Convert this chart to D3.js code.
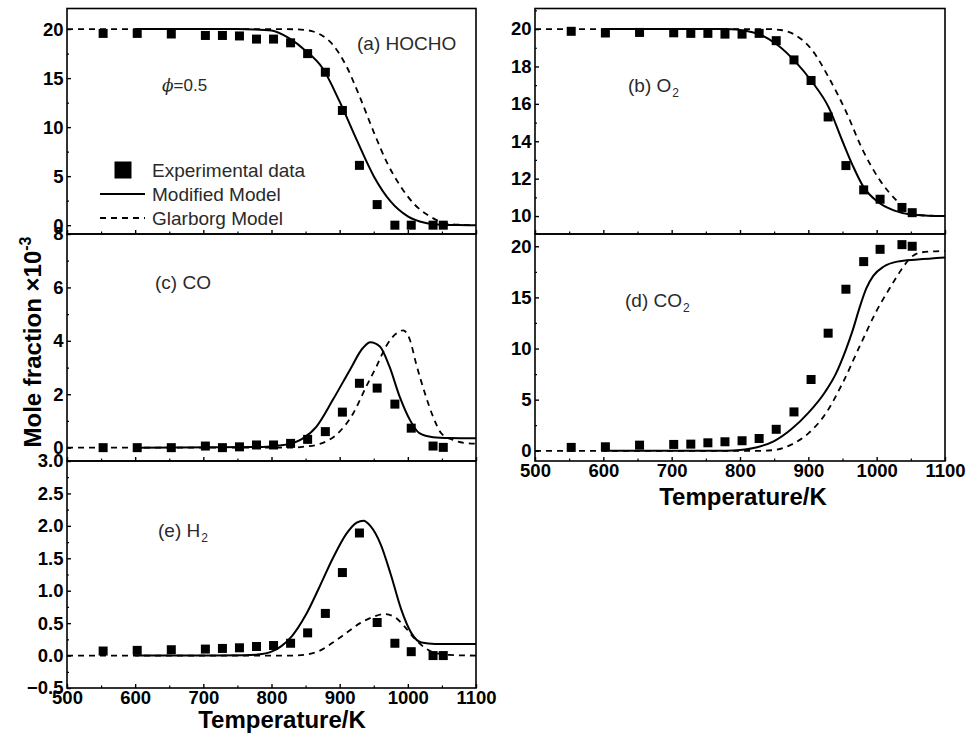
<!DOCTYPE html>
<html>
<head>
<meta charset="utf-8">
<script src="https://cdn.jsdelivr.net/npm/d3@7"></script>
<style>
  html, body { margin: 0; padding: 0; background: #fff; }
  svg { display: block; font-family: "Liberation Sans", Arial, sans-serif; }
</style>
</head>
<body>
<svg id="chart" width="969" height="733"></svg>
<script>
// ---------------- DATA ----------------
const expT = [553, 603, 653, 703, 728, 753, 778, 803, 828, 853, 879, 904, 929, 955, 981, 1005, 1037, 1052];

const expHOCHO = [19.56, 19.56, 19.5, 19.35, 19.35, 19.3, 18.98, 18.98, 18.6, 17.5, 15.6, 11.7, 6.1, 2.1, 0, 0, 0, 0];
const expO2    = [19.88, 19.79, 19.82, 19.8, 19.77, 19.77, 19.73, 19.73, 19.77, 19.38, 18.35, 17.25, 15.3, 12.7, 11.4, 10.9, 10.46, 10.18];
const expCO    = [0, 0, 0, 0.06, 0, 0.03, 0.1, 0.1, 0.16, 0.31, 0.6, 1.33, 2.41, 2.23, 1.63, 0.73, 0.06, 0.01];
const expCO2   = [0.33, 0.39, 0.55, 0.62, 0.65, 0.78, 0.88, 0.98, 1.2, 2.1, 3.8, 6.97, 11.5, 15.8, 18.5, 19.7, 20.16, 20.0];
const expH2    = [0.07, 0.08, 0.09, 0.1, 0.11, 0.12, 0.14, 0.155, 0.19, 0.35, 0.65, 1.28, 1.89, 0.51, 0.19, 0.06, 0.0, 0.0];

// Modified model (solid)
const modHOCHO_T = [600, 750, 775, 800, 825, 850, 875, 900, 925, 950, 975, 1000, 1025, 1050, 1075, 1100];
const modHOCHO   = [20, 20, 19.97, 19.85, 19.1, 17.8, 16.0, 12.6, 8.7, 5.0, 2.4, 0.9, 0.25, 0.05, 0.01, 0];
const modO2_T = [600, 780, 810, 830, 855, 880, 905, 930, 950, 965, 980, 1000, 1025, 1050, 1075, 1100];
const modO2   = [20, 20, 19.9, 19.7, 19.15, 18.3, 17.2, 15.8, 14.0, 12.7, 11.6, 10.8, 10.3, 10.08, 10.02, 10.0];
const modCO_T = [600, 780, 810, 830, 845, 866, 890, 915, 934, 945, 959, 973, 988, 1003, 1017, 1037, 1061, 1100];
const modCO   = [0, 0.02, 0.08, 0.16, 0.33, 0.79, 1.79, 2.91, 3.73, 3.95, 3.79, 3.04, 1.91, 1.04, 0.54, 0.39, 0.36, 0.35];
const modCO2_T = [600, 780, 800, 825, 850, 875, 900, 925, 940, 955, 965, 975, 985, 995, 1010, 1030, 1060, 1100];
const modCO2   = [0, 0, 0.07, 0.35, 0.95, 2.1, 3.7, 5.8, 7.5, 9.9, 11.8, 14.0, 15.9, 17.1, 18.0, 18.5, 18.7, 18.9];
const modH2_T = [600, 760, 780, 800, 815, 830, 850, 870, 890, 910, 925, 935, 945, 960, 975, 990, 1005, 1020, 1040, 1100];
const modH2   = [0, 0.005, 0.015, 0.06, 0.15, 0.3, 0.62, 1.05, 1.5, 1.88, 2.05, 2.08, 2.0, 1.72, 1.25, 0.72, 0.35, 0.2, 0.18, 0.18];

// Glarborg model (dashed)
const glaHOCHO_T = [500, 820, 850, 870, 890, 910, 930, 950, 970, 990, 1010, 1030, 1050, 1070, 1100];
const glaHOCHO   = [20, 20, 19.9, 19.5, 18.4, 16.2, 13.0, 9.5, 6.3, 3.9, 2.1, 1.0, 0.3, 0.06, 0];
const glaO2_T = [500, 840, 860, 880, 905, 930, 955, 980, 1005, 1030, 1050, 1070, 1100];
const glaO2   = [20, 20, 19.95, 19.7, 18.9, 17.4, 15.6, 13.5, 11.9, 10.8, 10.2, 10.03, 10];
const glaCO_T = [500, 830, 849, 871, 895, 920, 939, 954, 968, 981, 993, 1003, 1012, 1025, 1037, 1049, 1066, 1086, 1100];
const glaCO   = [0, 0, 0.04, 0.14, 0.48, 1.29, 2.29, 3.04, 3.79, 4.23, 4.39, 4.04, 3.16, 2.04, 1.16, 0.54, 0.29, 0.17, 0.15];
const glaCO2_T = [500, 830, 850, 875, 900, 925, 950, 975, 1000, 1020, 1035, 1050, 1065, 1100];
const glaCO2   = [0, 0, 0.07, 0.6, 1.7, 3.6, 6.6, 10.2, 13.7, 16.0, 17.6, 18.9, 19.4, 19.55];
const glaH2_T = [500, 830, 850, 870, 890, 910, 930, 950, 965, 980, 995, 1010, 1025, 1040, 1060, 1100];
const glaH2   = [0, 0, 0.015, 0.07, 0.2, 0.35, 0.5, 0.6, 0.64, 0.6, 0.45, 0.26, 0.12, 0.04, 0.01, 0];

// Axis ticks
const xTicks = [500, 600, 700, 800, 900, 1000, 1100];
const xMinor = [550, 650, 750, 850, 950, 1050];
const yTicksA = [0, 5, 10, 15, 20];
const yTicksB = [10, 12, 14, 16, 18, 20];
const yTicksC = [0, 2, 4, 6, 8];
const yTicksD = [0, 5, 10, 15, 20];
const yTicksE = [-0.5, 0.0, 0.5, 1.0, 1.5, 2.0, 2.5, 3.0];

// Labels
const legendLabels = ["Experimental data", "Modified Model", "Glarborg Model"];
const xTitle = "Temperature/K";
const yTitle = "Mole fraction ×10";

// ---------------- LAYOUT ----------------
const svg = d3.select("#chart");
const colL = [67, 476], colR = [535, 945];
const xL = d3.scaleLinear().domain([500, 1100]).range(colL);
const xR = d3.scaleLinear().domain([500, 1100]).range(colR);

const panels = [
  { id: "a", x: xL, y: d3.scaleLinear().domain([-0.9, 22.1]).range([234, 8.5]),
    ticks: yTicksA, step: 2.5, fmt: d3.format("d"), exp: expHOCHO,
    mT: modHOCHO_T, m: modHOCHO, gT: glaHOCHO_T, g: glaHOCHO, xlabels: false,
    label: { t: "(a) HOCHO", sub: null, x: 357, y: 50 } },
  { id: "b", x: xR, y: d3.scaleLinear().domain([9.04, 21.1]).range([234, 8.5]),
    ticks: yTicksB, step: 1, fmt: d3.format("d"), exp: expO2,
    mT: modO2_T, m: modO2, gT: glaO2_T, g: glaO2, xlabels: false,
    label: { t: "(b) O", sub: "2", x: 628, y: 92 } },
  { id: "c", x: xL, y: d3.scaleLinear().domain([-0.5, 8]).range([461, 234]),
    ticks: yTicksC, step: 1, fmt: d3.format("d"), exp: expCO,
    mT: modCO_T, m: modCO, gT: glaCO_T, g: glaCO, xlabels: false,
    label: { t: "(c) CO", sub: null, x: 155, y: 289 } },
  { id: "d", x: xR, y: d3.scaleLinear().domain([-1, 21.2]).range([461, 234]),
    ticks: yTicksD, step: 2.5, fmt: d3.format("d"), exp: expCO2,
    mT: modCO2_T, m: modCO2, gT: glaCO2_T, g: glaCO2, xlabels: true,
    label: { t: "(d) CO", sub: "2", x: 625, y: 307 } },
  { id: "e", x: xL, y: d3.scaleLinear().domain([-0.5, 3.0]).range([688, 461]),
    ticks: yTicksE, step: 0.25, fmt: d3.format(".1f"), exp: expH2,
    mT: modH2_T, m: modH2, gT: glaH2_T, g: glaH2, xlabels: true,
    label: { t: "(e) H", sub: "2", x: 158, y: 537 } }
];

const tickFont = 18.5;

panels.forEach(p => {
  const [x0, x1] = p.x.range();
  const [yb, yt] = p.y.range();
  const g = svg.append("g").attr("class", "panel-" + p.id);

  // clip
  const clipId = "clip-" + p.id;
  svg.append("clipPath").attr("id", clipId)
    .append("rect").attr("x", x0).attr("y", yt).attr("width", x1 - x0).attr("height", yb - yt);

  // minor y ticks
  const [d0, d1] = p.y.domain();
  const minorY = d3.range(Math.ceil(d0 / p.step) * p.step, d1 + 1e-9, p.step)
    .filter(v => !p.ticks.some(t => Math.abs(t - v) < 1e-9));
  g.append("g").attr("transform", `translate(${x0},0)`)
    .call(d3.axisLeft(p.y).tickValues(minorY).tickSize(-2).tickFormat(""))
    .call(s => s.select(".domain").remove())
    .call(s => s.selectAll("line").attr("stroke", "#000").attr("stroke-width", 1.2));

  // major y ticks
  g.append("g").attr("transform", `translate(${x0},0)`)
    .call(d3.axisLeft(p.y).tickValues(p.ticks).tickSize(-4).tickPadding(3.5).tickFormat(p.fmt))
    .call(s => s.select(".domain").remove())
    .call(s => s.selectAll("line").attr("stroke", "#000").attr("stroke-width", 1.4))
    .call(s => s.selectAll("text").attr("font-size", tickFont).attr("font-weight", "bold")
      .attr("fill", "#000").attr("font-family", "Liberation Sans, Arial, sans-serif"));

  // x minor ticks
  g.append("g").attr("transform", `translate(0,${yb})`)
    .call(d3.axisBottom(p.x).tickValues(xMinor).tickSize(-2.5).tickFormat(""))
    .call(s => s.select(".domain").remove())
    .call(s => s.selectAll("line").attr("stroke", "#000").attr("stroke-width", 1.2));

  // x major ticks
  g.append("g").attr("transform", `translate(0,${yb})`)
    .call(d3.axisBottom(p.x).tickValues(xTicks).tickSize(-4).tickPadding(3)
      .tickFormat(p.xlabels ? d3.format("d") : ""))
    .call(s => s.select(".domain").remove())
    .call(s => s.selectAll("line").attr("stroke", "#000").attr("stroke-width", 1.4))
    .call(s => s.selectAll("text").attr("font-size", tickFont).attr("font-weight", "bold")
      .attr("fill", "#000").attr("font-family", "Liberation Sans, Arial, sans-serif"));

  // lines
  const line = d3.line().x(d => p.x(d[0])).y(d => p.y(d[1])).curve(d3.curveMonotoneX);
  const plot = g.append("g").attr("clip-path", `url(#${clipId})`);
  plot.append("path")
    .datum(p.gT.map((t, i) => [t, p.g[i]]))
    .attr("d", line).attr("fill", "none").attr("stroke", "#000")
    .attr("stroke-width", 1.8).attr("stroke-dasharray", "6,5");
  plot.append("path")
    .datum(p.mT.map((t, i) => [t, p.m[i]]))
    .attr("d", line).attr("fill", "none").attr("stroke", "#000")
    .attr("stroke-width", 2);

  // points
  const s = 9;
  g.append("g").selectAll("rect")
    .data(expT.map((t, i) => [t, p.exp[i]]))
    .join("rect")
    .attr("x", d => p.x(d[0]) - s / 2)
    .attr("y", d => p.y(d[1]) - s / 2)
    .attr("width", s).attr("height", s).attr("fill", "#000");

  // frame
  g.append("rect").attr("x", x0).attr("y", yt).attr("width", x1 - x0).attr("height", yb - yt)
    .attr("fill", "none").attr("stroke", "#000").attr("stroke-width", 1.6);

  // panel label
  const t = g.append("text").attr("x", p.label.x).attr("y", p.label.y)
    .attr("font-size", 19).attr("fill", "#2a2a2a").text(p.label.t);
  if (p.label.sub) {
    t.append("tspan").attr("font-size", 12).attr("dy", 5).attr("dx", 1).text(p.label.sub);
  }
});

// phi label
const phiT = svg.append("text").attr("x", 162).attr("y", 91).attr("font-size", 17).attr("fill", "#2a2a2a");
phiT.append("tspan").attr("font-style", "italic").attr("font-family", "DejaVu Serif, serif").text("ϕ");
phiT.append("tspan").text("=0.5");

// legend
const lg = svg.append("g");
lg.append("rect").attr("x", 114.5).attr("y", 161.5).attr("width", 17).attr("height", 17).attr("fill", "#000");
lg.append("line").attr("x1", 100).attr("x2", 145).attr("y1", 194).attr("y2", 194)
  .attr("stroke", "#000").attr("stroke-width", 2);
lg.append("line").attr("x1", 100).attr("x2", 145).attr("y1", 218).attr("y2", 218)
  .attr("stroke", "#000").attr("stroke-width", 1.8).attr("stroke-dasharray", "6,5");
legendLabels.forEach((l, i) => {
  lg.append("text").attr("x", 152).attr("y", 177 + i * 24).attr("font-size", 19)
    .attr("fill", "#2a2a2a").text(l);
});

// axis titles
[[282, 728], [743, 505]].forEach(([cx, cy]) => {
  svg.append("text").attr("x", cx).attr("y", cy).attr("text-anchor", "middle")
    .attr("font-size", 24).attr("font-weight", "bold").attr("fill", "#000").text(xTitle);
});
const yt = svg.append("text")
  .attr("transform", "translate(41,342) rotate(-90)")
  .attr("text-anchor", "middle").attr("font-size", 24).attr("font-weight", "bold").attr("fill", "#000");
yt.append("tspan").text(yTitle);
yt.append("tspan").attr("font-size", 16).attr("dy", -10).text("-3");
</script>
</body>
</html>
